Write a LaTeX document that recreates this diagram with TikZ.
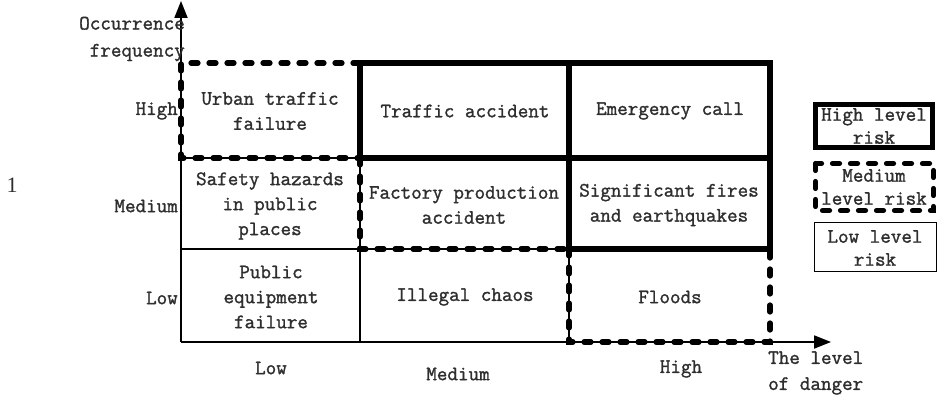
\documentclass[tikz,border=0pt]{standalone}
\usepackage{fontspec}
\setmonofont{Latin Modern Mono}[FakeBold=1.4]
\newfontfamily\onefont{Liberation Serif}
\usetikzlibrary{arrows.meta}
\definecolor{txt}{gray}{0.18}
\tikzset{
  celltext/.style={align=center,text=txt,font=\ttfamily\fontsize{20.5}{25}\selectfont,inner sep=0pt},
  lbl/.style={text=txt,font=\ttfamily\fontsize{20.5}{25}\selectfont,inner sep=0pt},
  legtext/.style={celltext,font=\ttfamily\fontsize{20.5}{23}\selectfont},
  thinline/.style={line width=1.6pt,black},
  heavy/.style={line width=5.5pt,black,line cap=rect,line join=miter},
  dashy/.style={line width=5.2pt,black,line cap=round,dash pattern=on 7pt off 11pt},
  axisarrow/.style={line width=1.8pt,-{Triangle[length=17pt,width=13pt]}},
}
\begin{document}
\begin{tikzpicture}[x=1pt,y=-1pt]
\useasboundingbox (0,0) rectangle (940,401);
% coordinates
\coordinate (O) at (181,342);
\coordinate (ytip) at (181,1);
\coordinate (xtip) at (831,342);
% thin internal grid
\draw[thinline] (181,158) -- (770,158);
\draw[thinline] (181,249) -- (770,249);
\draw[thinline] (360,63) -- (360,342);
\draw[thinline] (569,63) -- (569,342);
% axes
\draw[axisarrow] (O) -- (ytip);
\draw[axisarrow] (O) -- (xtip);
% dashed medium-risk outlines
\draw[dashy] (360,63) -- (181,63) -- (181,158) -- (360,158);
\draw[dashy] (360,158) -- (360,249) -- (569,249);
\draw[dashy] (569,249) -- (569,342) -- (770,342) -- (770,249);
% heavy high-risk outlines
\draw[heavy] (360,158) -- (360,63) -- (770,63) -- (770,249) -- (569,249) -- (569,63);
\draw[heavy] (360,158) -- (770,158);
% cells
\node[celltext] (c11) at (270,111) {Urban traffic\\failure};
\node[celltext] (c12) at (465,111) {Traffic accident};
\node[celltext] (c13) at (670,111) {Emergency call};
\node[celltext] (c21) at (270,206) {Safety hazards\\in public\\places};
\node[celltext] (c22) at (464,205) {Factory production\\accident};
\node[celltext] (c23) at (669,205) {Significant fires\\and earthquakes};
\node[celltext] (c31) at (271,297) {Public\\equipment\\failure};
\node[celltext] (c32) at (465,297) {Illegal chaos};
\node[celltext] (c33) at (670,297) {Floods};
% axis labels
\node[lbl,align=right,anchor=east,font=\ttfamily\fontsize{20.5}{27}\selectfont] (yl) at (185,39) {Occurrence\\frequency};
\node[lbl,anchor=east] (rh) at (178,111) {High};
\node[lbl,anchor=east] (rm) at (178,206) {Medium};
\node[lbl,anchor=east] (rl) at (178,298) {Low};
\node[lbl] (cl) at (271,368) {Low};
\node[lbl] (cm) at (458,374) {Medium};
\node[lbl] (ch) at (681,369) {High};
\node[lbl,align=left,anchor=west,font=\ttfamily\fontsize{20.5}{26}\selectfont] (xl) at (768,373) {The level\\of danger};
\node[lbl,font=\onefont\fontsize{22}{24}\selectfont] (one) at (12,185) {1};
% legend
\draw[heavy] (815.5,104.5) rectangle (932.5,147.5);
\node[legtext] (lh) at (874,126) {High level\\risk};
\draw[dashy] (815.5,163.5) rectangle (933.5,210.5);
\node[legtext] (lm) at (874,187) {Medium\\level risk};
\draw[line width=1.3pt] (814.7,222.7) rectangle (936.3,271.3);
\node[legtext] (ll) at (875,248) {Low level\\risk};
\end{tikzpicture}
\end{document}
